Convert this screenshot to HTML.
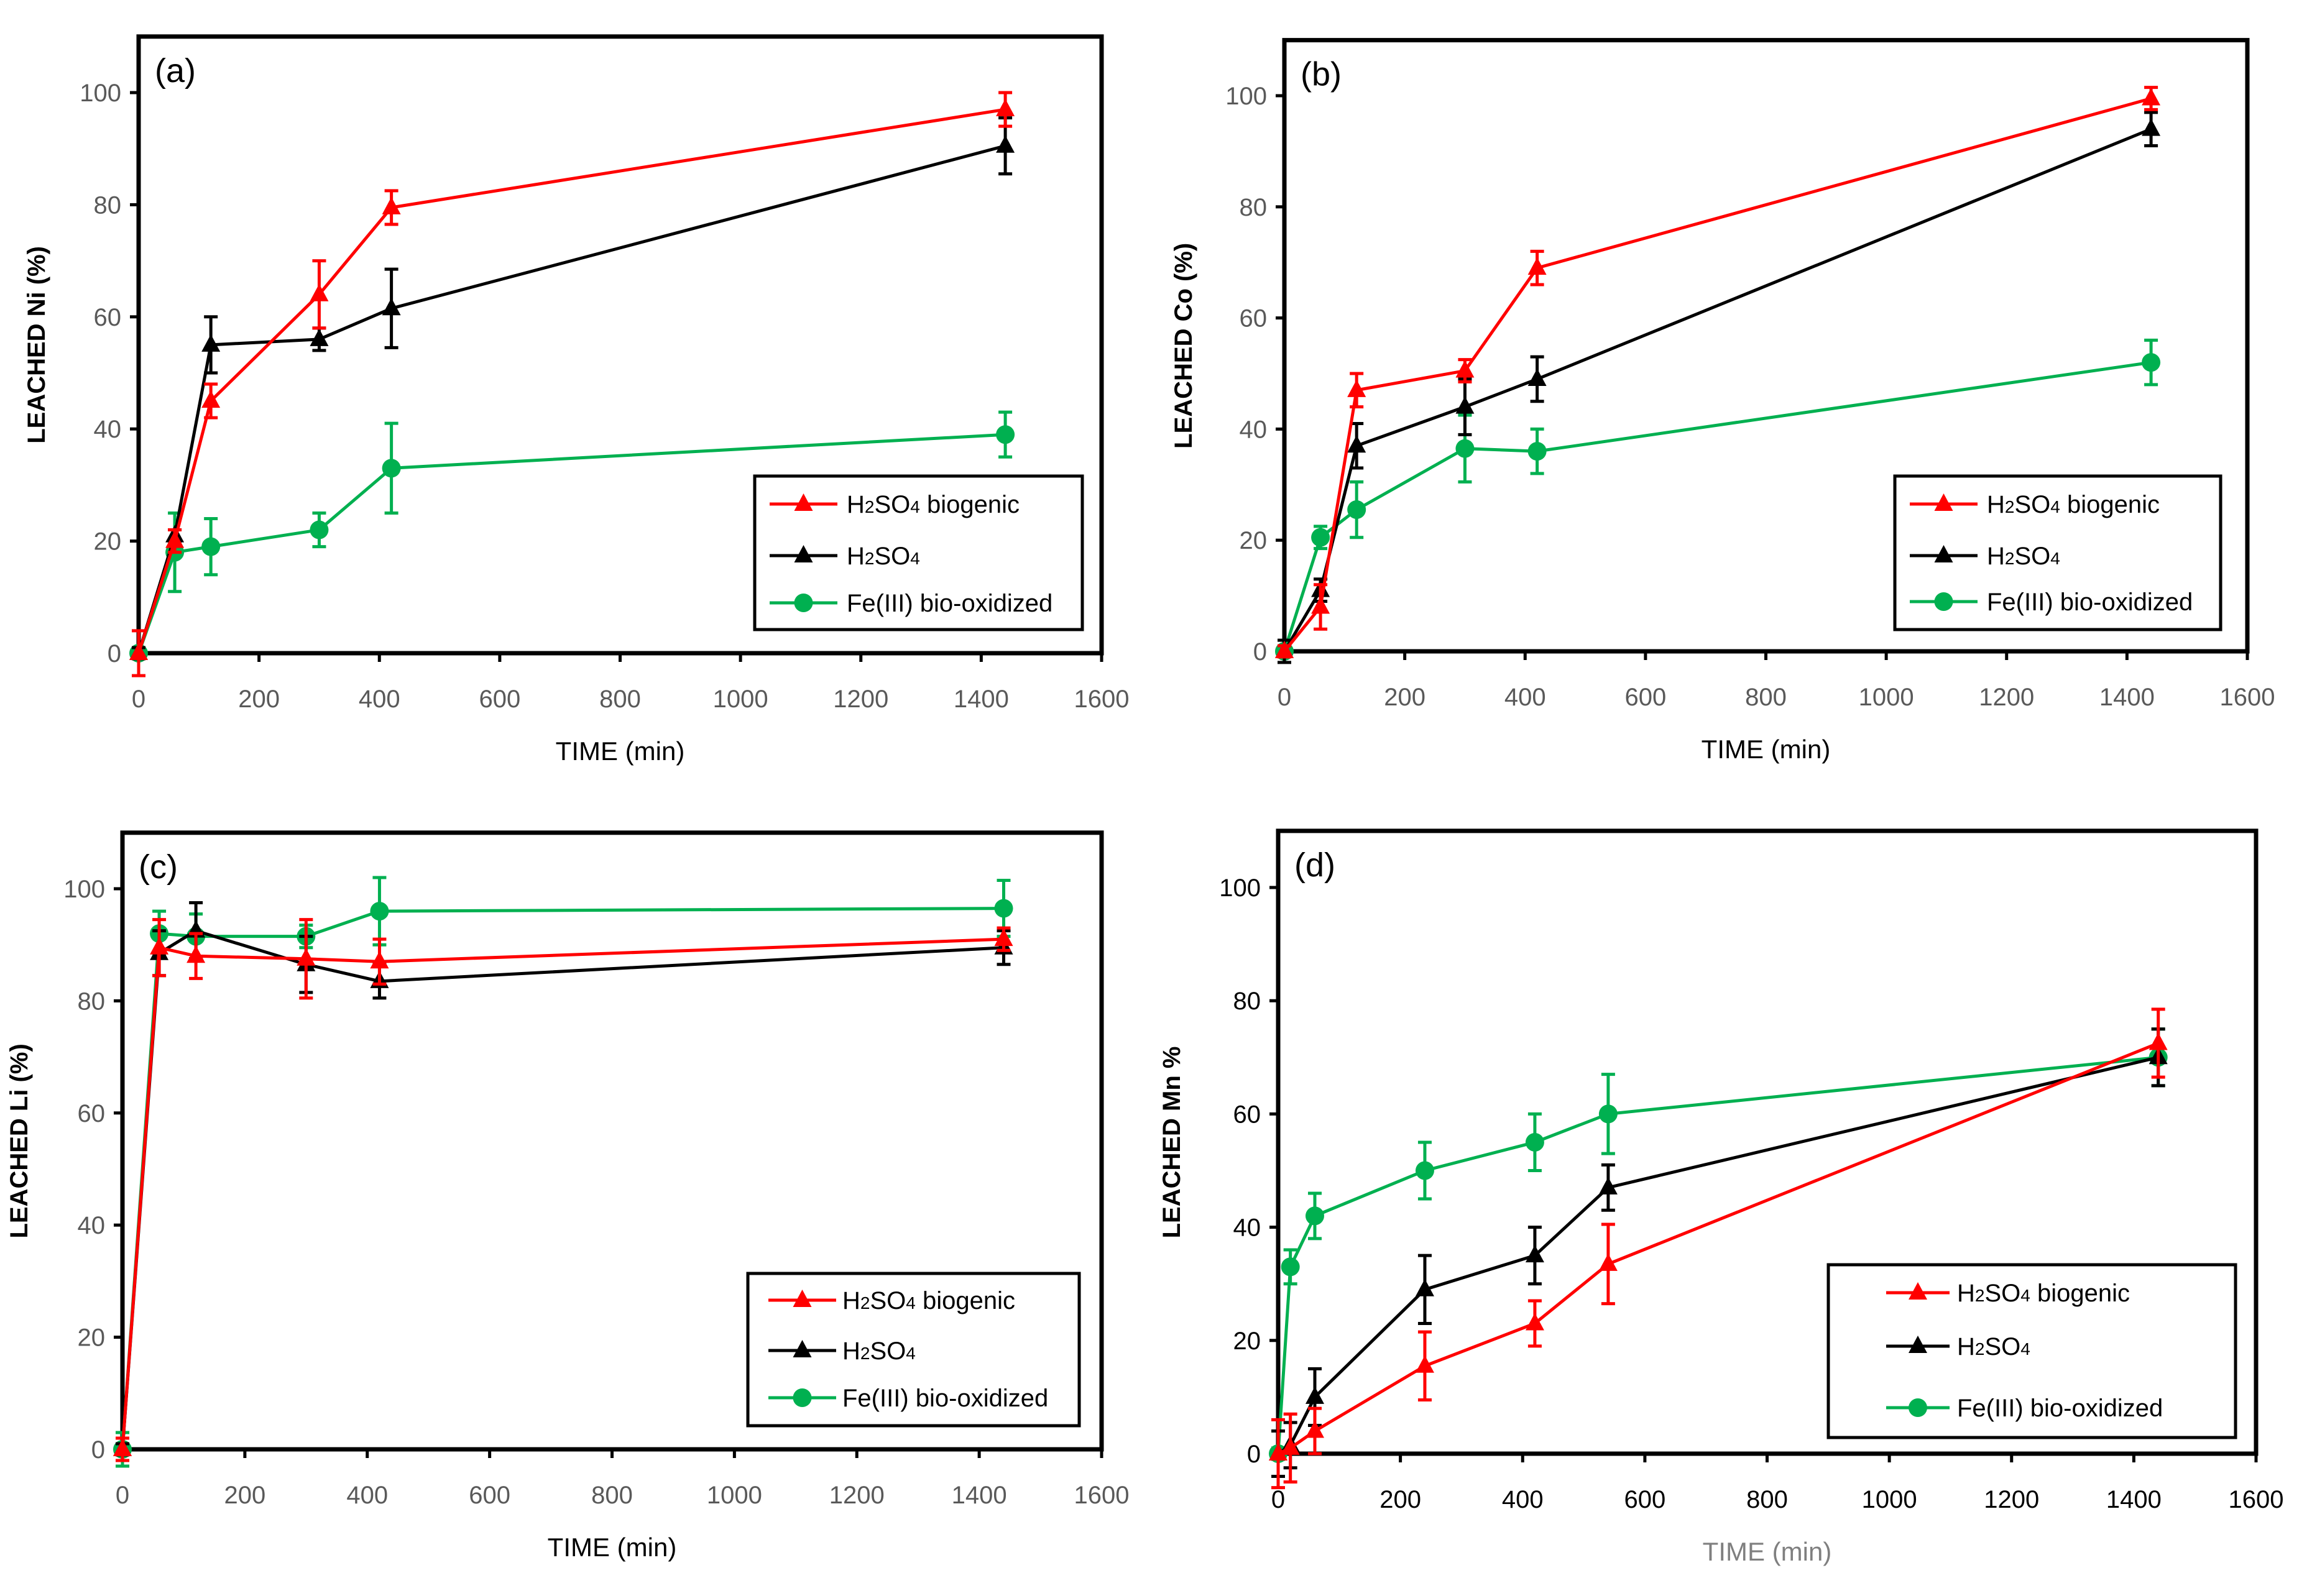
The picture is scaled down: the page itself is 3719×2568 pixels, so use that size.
<!DOCTYPE html>
<html><head><meta charset="utf-8"><style>
html,body{margin:0;padding:0;background:#fff;}
svg{display:block;font-family:"Liberation Sans",sans-serif;}
</style></head><body>
<svg id="fig" width="3719" height="2568" viewBox="0 0 3719 2568" xmlns="http://www.w3.org/2000/svg"></svg>
<script>
const xTicks=[0,200,400,600,800,1000,1200,1400,1600];
const yTicks=[0,20,40,60,80,100];
const seriesNames=["H2SO4 biogenic","H2SO4","Fe(III) bio-oxidized"];
// panel a (Ni)
const aTime=[0,60,120,300,420,1440];
const aRed=[0,20,45,64,79.5,97];
const aRedErr=[4,2,3,6,3,3];
const aBlack=[0,21,55,56,61.5,90.5];
const aBlackErr=[1,1,5,2,7,5];
const aGreen=[0,18,19,22,33,39];
const aGreenErr=[1,7,5,3,8,4];
// panel b (Co)
const bTime=[0,60,120,300,420,1440];
const bRed=[0,8,47,50.5,69,99.5];
const bRedErr=[1,4,3,2,3,2];
const bBlack=[0,11,37,44,49,94];
const bBlackErr=[2,2,4,5,4,3];
const bGreen=[0,20.5,25.5,36.5,36,52];
const bGreenErr=[1,2,5,6,4,4];
// panel c (Li)
const cTime=[0,60,120,300,420,1440];
const cRed=[0,89.5,88,87.5,87,91];
const cRedErr=[2,5,4,7,4,2];
const cBlack=[0,88.5,92.5,86.5,83.5,89.5];
const cBlackErr=[1,4,5,5,3,3];
const cGreen=[0,92,91.5,91.5,96,96.5];
const cGreenErr=[3,4,4,2,6,5];
// panel d (Mn)
const dTime=[0,20,60,240,420,540,1440];
const dRed=[0,1,4,15.5,23,33.5,72.5];
const dRedErr=[6,6,4,6,4,7,6];
const dBlack=[0,1.5,10,29,35,47,70];
const dBlackErr=[4,4,5,6,5,4,5];
const dGreen=[0,33,42,50,55,60,70];
const dGreenErr=[1,3,4,5,5,7,5];

const NS="http://www.w3.org/2000/svg";
const svg=document.getElementById('fig');
function mk(tag,attrs,parent){const e=document.createElementNS(NS,tag);for(const k in attrs)e.setAttribute(k,attrs[k]);(parent||svg).appendChild(e);return e;}
const COLORS=["#ff0000","#000000","#00b050"];

const panels=[
 {id:"a",L:223,R:1772,Y0:1051,Y100:149,ylab:"LEACHED Ni (%)",ylx:72,tickCol:"#595959",xlabCol:"#000",
  t:[aTime,aTime,aTime],v:[aRed,aBlack,aGreen],e:[aRedErr,aBlackErr,aGreenErr],
  leg:{x1:1214,x2:1741,y1:766,y2:1013,ys:[811,894,970],lx1:1238,lx2:1347,tx:1362}},
 {id:"b",L:2066,R:3615,Y0:1048,Y100:154,ylab:"LEACHED Co (%)",ylx:1917,tickCol:"#595959",xlabCol:"#000",
  t:[bTime,bTime,bTime],v:[bRed,bBlack,bGreen],e:[bRedErr,bBlackErr,bGreenErr],
  leg:{x1:3048,x2:3572,y1:766,y2:1013,ys:[811,894,968],lx1:3072,lx2:3181,tx:3196}},
 {id:"c",L:197,R:1772,Y0:2332,Y100:1430,ylab:"LEACHED Li (%)",ylx:44,tickCol:"#595959",xlabCol:"#000",
  t:[cTime,cTime,cTime],v:[cRed,cBlack,cGreen],e:[cRedErr,cBlackErr,cGreenErr],
  leg:{x1:1203,x2:1736,y1:2049,y2:2294,ys:[2092,2173,2249],lx1:1236,lx2:1345,tx:1355}},
 {id:"d",L:2056,R:3629,Y0:2339,Y100:1428,ylab:"LEACHED Mn %",ylx:1898,tickCol:"#000",xlabCol:"#7f7f7f",
  t:[dTime,dTime,dTime],v:[dRed,dBlack,dGreen],e:[dRedErr,dBlackErr,dGreenErr],
  leg:{x1:2941,x2:3596,y1:2035,y2:2313,ys:[2080,2166,2265],lx1:3034,lx2:3136,tx:3148}}
];

function marker(g,kind,x,y,col,name){
  let m;
  if(kind===2){m=mk('circle',{cx:x,cy:y,r:15,fill:col},g);}
  else{m=mk('polygon',{points:`${x},${y-17} ${x+15},${y+11} ${x-15},${y+11}`,fill:col},g);}
  
  
}

panels.forEach(p=>{
  const g=mk('g',{});
  
  
  const sx=v=>p.L+(v/1600)*(p.R-p.L);
  const sy=v=>p.Y0-(v/100)*(p.Y0-p.Y100);
  const top=sy(110);
  // frame
  const fr=mk('rect',{x:p.L,y:top,width:p.R-p.L,height:p.Y0-top,fill:'none',stroke:'#000','stroke-width':7},g);
  
  
  // x ticks
  xTicks.forEach(t=>{
    const x=sx(t);
    const tk=mk('line',{x1:x,y1:p.Y0,x2:x,y2:p.Y0+14,stroke:'#000','stroke-width':5},g);
    
    
    const tl=mk('text',{x:x,y:p.Y0+87,'text-anchor':'middle','font-size':40,fill:p.tickCol},g);
    tl.textContent=t;
    
    
  });
  yTicks.forEach(t=>{
    const y=sy(t);
    const tk=mk('line',{x1:p.L-14,y1:y,x2:p.L,y2:y,stroke:'#000','stroke-width':5},g);
    
    
    const tl=mk('text',{x:p.L-28,y:y+14,'text-anchor':'end','font-size':40,fill:p.tickCol},g);
    tl.textContent=t;
    
    
  });
  // axis titles
  const xt=mk('text',{x:(p.L+p.R)/2,y:p.Y0+172,'text-anchor':'middle','font-size':42,fill:p.xlabCol},g);
  xt.textContent='TIME (min)';
  
  
  const yc=(p.Y0+top)/2;
  const yt=mk('text',{x:p.ylx,y:yc,'text-anchor':'middle','font-size':40,'font-weight':'bold',transform:`rotate(-90 ${p.ylx} ${yc})`},g);
  yt.textContent=p.ylab;
  
  
  const pl=mk('text',{x:p.L+26,y:top+73,'font-size':54},g);
  pl.textContent='('+p.id+')';
  
  
  // series: draw order green, black, red? red on top
  [2,1,0].forEach(si=>{
    const sg=mk('g',{},g);
    
    
    const col=COLORS[si];
    const ts=p.t[si],vs=p.v[si],es=p.e[si];
    const pts=ts.map((t,i)=>sx(t)+','+sy(vs[i])).join(' ');
    const ln=mk('polyline',{points:pts,fill:'none',stroke:col,'stroke-width':5},sg);
    
    
    ts.forEach((t,i)=>{
      const x=sx(t),y1=sy(vs[i]+es[i]),y2=sy(vs[i]-es[i]);
      const eb=mk('path',{d:`M${x},${y1}V${y2}M${x-11},${y1}H${x+11}M${x-11},${y2}H${x+11}`,stroke:col,'stroke-width':5,fill:'none'},sg);
      
      
      marker(sg,si,x,sy(vs[i]),col,'data-point');
    });
  });
  // legend
  const L=p.leg;
  const lg=mk('g',{},g);
  
  
  mk('rect',{x:L.x1,y:L.y1,width:L.x2-L.x1,height:L.y2-L.y1,fill:'#fff',stroke:'#000','stroke-width':5},lg);
  [0,1,2].forEach(si=>{
    const eg=mk('g',{},lg);
    
    
    const y=L.ys[si];
    mk('line',{x1:L.lx1,y1:y,x2:L.lx2,y2:y,stroke:COLORS[si],'stroke-width':5},eg);
    marker(eg,si,(L.lx1+L.lx2)/2,y,COLORS[si],'legend-marker');
    const tx=mk('text',{x:L.tx,y:y+14,'font-size':40},eg);
    if(si<2){
      tx.innerHTML='H<tspan font-size="28">2</tspan>SO<tspan font-size="28">4</tspan>'+(si===0?' biogenic':'');
    } else tx.textContent='Fe(III) bio-oxidized';
  });
});
</script>
</body></html>
